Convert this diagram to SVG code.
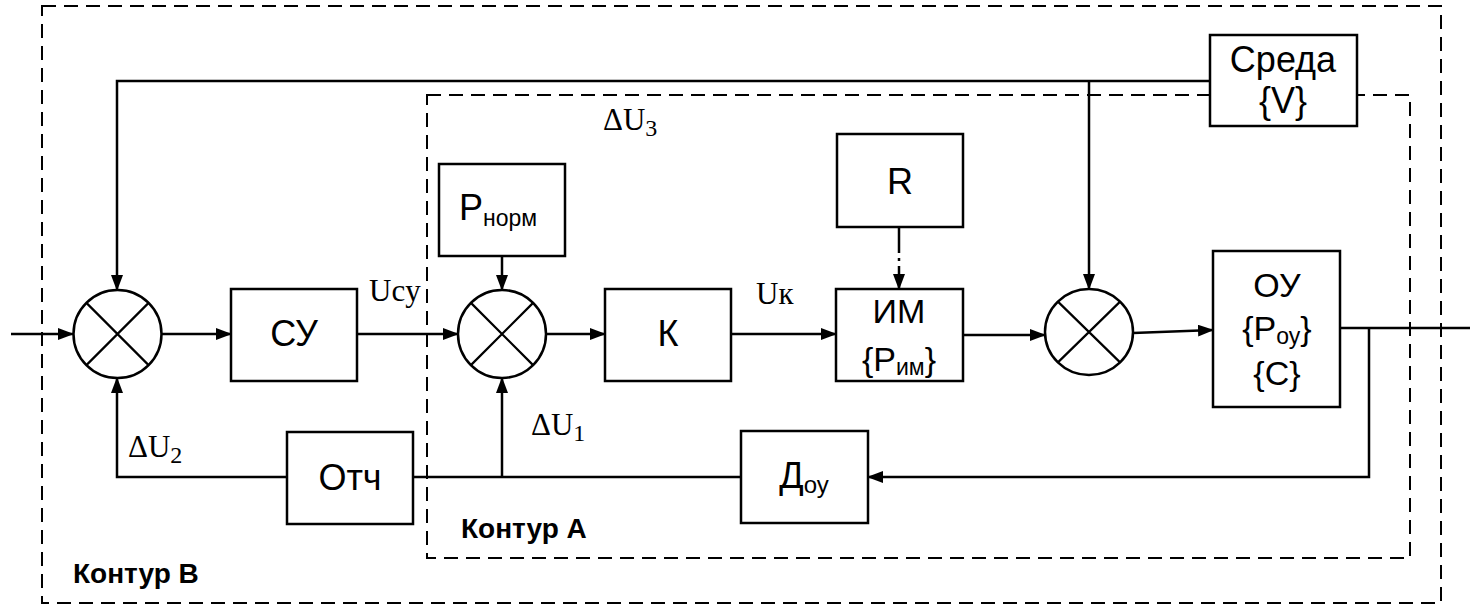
<svg xmlns="http://www.w3.org/2000/svg" width="1470" height="607" viewBox="0 0 1470 607">
<style>
.box{fill:#fff;stroke:#000;stroke-width:2.5}
.sum{fill:#fff;stroke:#000;stroke-width:2.5}
.x{stroke:#000;stroke-width:2.2}
.ln{fill:none;stroke:#000;stroke-width:2.5}
.arr{marker-end:url(#ah)}
.dash{fill:none;stroke:#000;stroke-width:2;stroke-dasharray:14 8}
.t{font-family:"Liberation Sans",Arial,sans-serif;font-size:36px;fill:#000;text-anchor:middle}
.m{font-size:34px}
.s{font-family:"Liberation Serif","Times New Roman",serif;font-size:31px;fill:#000}
.b{font-family:"Liberation Sans",Arial,sans-serif;font-size:28px;font-weight:bold;fill:#000}
</style>
<defs>
<marker id="ah" markerUnits="userSpaceOnUse" markerWidth="16" markerHeight="12" refX="15" refY="6" orient="auto">
<path d="M0,0 L16,6 L0,12 z" fill="#000"/>
</marker>
</defs>
<rect width="1470" height="607" fill="#fff"/>
<g id="contour-b">
<rect class="dash" x="42" y="6" width="1399" height="597"/>
<text class="b" x="73" y="583">Контур В</text>
</g>
<g id="contour-a">
<rect class="dash" x="427" y="95" width="983" height="463"/>
<text class="b" x="461" y="538">Контур А</text>
</g>
<g id="connectors">
<path class="ln arr" d="M11,334 H73"/>
<path class="ln arr" d="M162,334 H231"/>
<path class="ln arr" d="M357,334 H458"/>
<path class="ln arr" d="M502,256 V290"/>
<path class="ln arr" d="M546,334 H605"/>
<path class="ln arr" d="M731,334 H836"/>
<path class="ln" d="M899,227 V253"/>
<path class="ln" d="M899,258 V261"/>
<path class="ln arr" d="M899,266 V289"/>
<path class="ln arr" d="M963,335 H1045"/>
<path class="ln arr" d="M1133,333 L1213,330"/>
<path class="ln" d="M1340,328 H1470"/>
<path class="ln arr" d="M1369,328 V477 H868"/>
<path class="ln" d="M741,477 H413"/>
<path class="ln arr" d="M502,477 V378"/>
<path class="ln arr" d="M287,477 H117 V378"/>
<path class="ln arr" d="M1210,81 H117 V290"/>
<path class="ln arr" d="M1089,81 V289"/>
</g>
<g id="sum1">
<circle class="sum" cx="117.5" cy="334" r="44"/>
<path class="x" d="M86.4,302.9 L148.6,365.1 M148.6,302.9 L86.4,365.1"/>
</g>
<g id="sum2">
<circle class="sum" cx="502" cy="334" r="44"/>
<path class="x" d="M470.9,302.9 L533.1,365.1 M533.1,302.9 L470.9,365.1"/>
</g>
<g id="sum3">
<ellipse class="sum" cx="1089" cy="332" rx="44" ry="43"/>
<path class="x" d="M1057.9,301.6 L1120.1,362.4 M1120.1,301.6 L1057.9,362.4"/>
</g>
<g id="su">
<rect class="box" x="231" y="289" width="126" height="92"/>
<text class="t" x="294" y="346">СУ</text>
</g>
<g id="pnorm">
<rect class="box" x="439" y="164" width="126" height="92"/>
<text class="t" x="459" y="220" style="text-anchor:start">P<tspan font-size="23" dy="6">норм</tspan></text>
</g>
<g id="k">
<rect class="box" x="605" y="289" width="126" height="92"/>
<text class="t" x="668" y="346">К</text>
</g>
<g id="r">
<rect class="box" x="837" y="134" width="126" height="93"/>
<text class="t" x="900" y="194">R</text>
</g>
<g id="im">
<rect class="box" x="836" y="289" width="127" height="92"/>
<text class="t m" x="899" y="323">ИМ</text>
<text class="t m" x="899" y="371">{P<tspan font-size="23" dy="4">им</tspan><tspan dy="-4">}</tspan></text>
</g>
<g id="sreda">
<rect class="box" x="1210" y="35" width="147" height="91"/>
<text class="t" x="1283" y="72">Среда</text>
<text class="t" x="1283" y="113">{V}</text>
</g>
<g id="ou">
<rect class="box" x="1213" y="251" width="127" height="156"/>
<text class="t m" x="1277" y="297">ОУ</text>
<text class="t m" x="1277" y="340">{P<tspan font-size="23" dy="4">оу</tspan><tspan dy="-4">}</tspan></text>
<text class="t m" x="1277" y="385">{C}</text>
</g>
<g id="doy">
<rect class="box" x="741" y="431" width="127" height="92"/>
<text class="t" x="804" y="488">Д<tspan font-size="24" dy="5">оу</tspan></text>
</g>
<g id="otch">
<rect class="box" x="287" y="432" width="126" height="92"/>
<text class="t" x="350" y="490">Отч</text>
</g>
<g id="labels">
<text class="s" x="369" y="301">Ucy</text>
<text class="s" x="756" y="304">Uк</text>
<text class="s" x="603" y="130">ΔU<tspan font-size="24" dy="6">3</tspan></text>
<text class="s" x="531" y="435">ΔU<tspan font-size="24" dy="6">1</tspan></text>
<text class="s" x="128" y="457">ΔU<tspan font-size="24" dy="6">2</tspan></text>
</g>
</svg>
